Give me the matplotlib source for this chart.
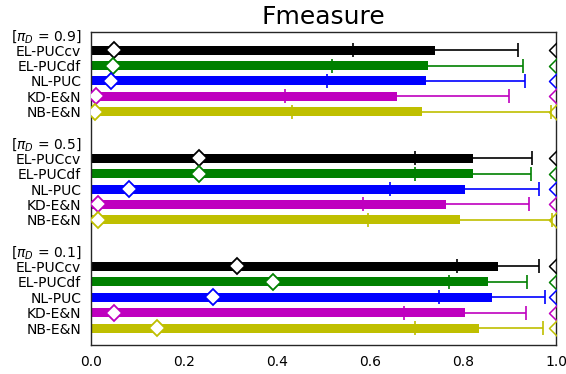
import matplotlib
matplotlib.use("Agg")
import matplotlib.pyplot as plt
from matplotlib.path import Path
import numpy as np

methods = ["EL-PUCcv", "EL-PUCdf", "NL-PUC", "KD-E&N", "NB-E&N"]
colors = ["k", "g", "b", "m", "y"]
priors = ["0.9", "0.5", "0.1"]

# mean F-measure per prior (rows) and method (columns)
means = [
    [0.740, 0.723, 0.720, 0.657, 0.710],
    [0.821, 0.820, 0.803, 0.763, 0.793],
    [0.874, 0.852, 0.862, 0.804, 0.834],
]
stds = [
    [0.178, 0.205, 0.212, 0.240, 0.278],
    [0.126, 0.125, 0.160, 0.178, 0.198],
    [0.088, 0.084, 0.114, 0.131, 0.138],
]
# diamond markers (baseline / minimum value)
diamonds = [
    [0.049, 0.048, 0.042, 0.011, 0.009],
    [0.231, 0.231, 0.082, 0.014, 0.014],
    [0.314, 0.392, 0.263, 0.049, 0.142],
]
# caret markers (maximum value)
maxima = [
    [0.983, 0.983, 0.983, 0.983, 0.983],
    [0.983, 0.983, 0.983, 0.983, 0.983],
    [0.983, 0.983, 0.983, 0.983, 0.983],
]
xticks = [0.0, 0.2, 0.4, 0.6, 0.8, 1.0]

caret = Path([(1.0, 1.0), (0.0, 0.0), (1.0, -1.0)],
             [Path.MOVETO, Path.LINETO, Path.LINETO])

fig = plt.figure(figsize=(5.66, 3.74), dpi=100)
ax = fig.add_axes([0.1608, 0.0775, 0.8224, 0.8369])

labels = []
positions = []
row = 0
for g, p in enumerate(priors):
    labels.append(r"[$\pi_D$ = %s]" % p)
    positions.append(row)
    row += 1
    for m, name in enumerate(methods):
        c = colors[m]
        ax.barh(row, means[g][m], height=0.58, color=c, zorder=2)
        ax.errorbar(means[g][m], row, xerr=stds[g][m], color=c, elinewidth=1.2,
                    capsize=4.7, capthick=1.2, fmt="none", zorder=3)
        ax.plot(diamonds[g][m], row, marker="D", ms=7.8, mfc="white", mec=c,
                mew=1.3, ls="none", zorder=4)
        ax.plot(maxima[g][m], row, marker=caret, ms=11.5, mfc="none", mec=c,
                mew=1.1, ls="none", zorder=4)
        labels.append(name)
        positions.append(row)
        row += 1
    row += 1

ax.set_yticks(positions)
ax.set_yticklabels(labels, fontsize=10)
ax.set_xticks(xticks)
ax.set_xticklabels(["%.1f" % t for t in xticks], fontsize=10)
ax.set_xlim(0, 1.0)
ax.set_ylim(20.1, -0.17)
ax.tick_params(length=0, pad=7)
for s in ax.spines.values():
    s.set_color("0.15")
    s.set_linewidth(1.0)
ax.set_title("Fmeasure", fontsize=18)

fig.savefig("out.png", dpi=100)
